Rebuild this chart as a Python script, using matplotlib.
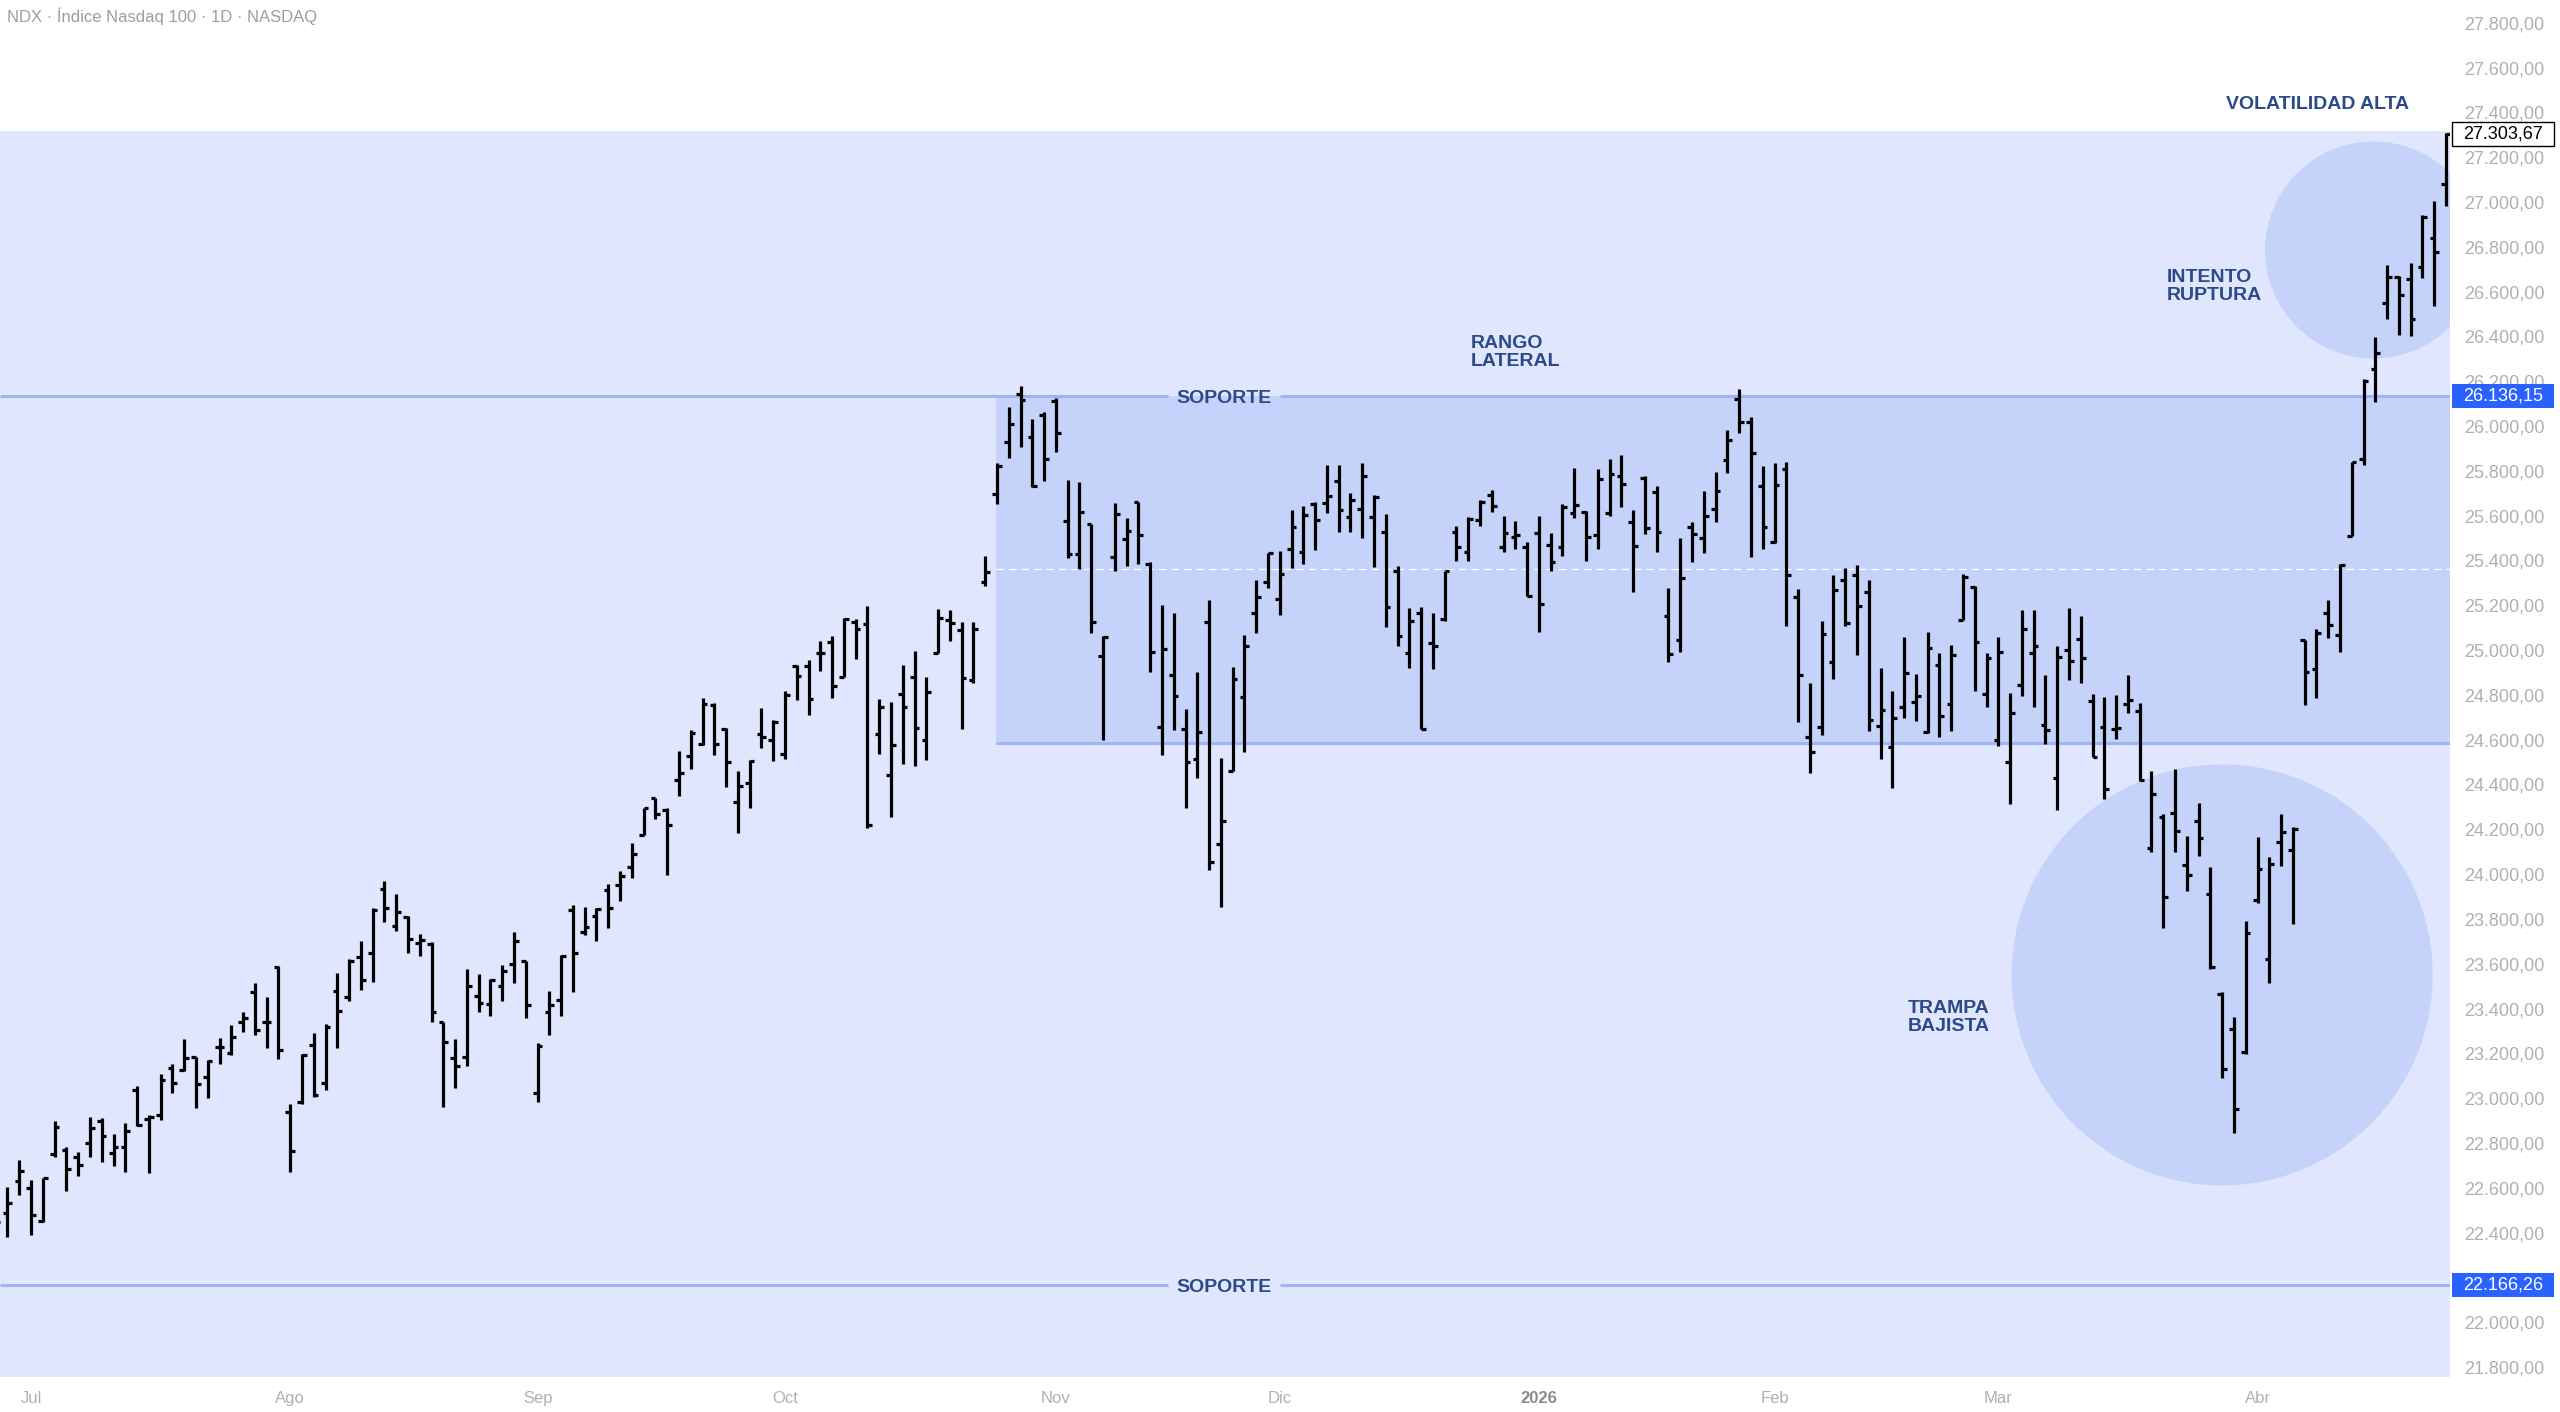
import numpy as np
import matplotlib.pyplot as plt
from matplotlib.collections import LineCollection
from matplotlib.patches import Rectangle, Ellipse

plt.rcParams['font.family'] = ['Liberation Sans', 'DejaVu Sans']

# ------------------------
# Datos: barras diarias OHLC del NDX (índice de sesión 0..208)
# ------------------------
opens = [
    22420, 22486, 22632, 22597, 22453, 22751, 22768, 22739, 22801, 22899,
    22754, 22783, 23036, 22905, 22925, 23133, 23126, 23182, 23096, 23227,
    23203, 23338, 23475, 23341, 23587, 22940, 22984, 23237, 23069, 23480,
    23453, 23628, 23649, 23932, 23768, 23807, 23694, 23688, 23341, 23180,
    23185, 23456, 23419, 23499, 23600, 23611, 23021, 23384, 23440, 23839,
    23743, 23815, 23929, 23950, 24030, 24176, 24338, 24285, 24420, 24529,
    24580, 24755, 24647, 24322, 24408, 24624, 24599, 24535, 24927, 24927,
    24986, 25034, 24882, 25126, 25115, 24624, 24441, 24804, 24879, 24600,
    24988, 25134, 25090, 24866, 25302, 25697, 25928, 26142, 25950, 26051,
    26110, 25574, 25429, 25565, 24975, 25416, 25498, 25659, 25383, 24656,
    24887, 24648, 24513, 25127, 24135, 24458, 24790, 25165, 25306, 25229,
    25452, 25440, 25653, 25656, 25757, 25593, 25629, 25596, 25529, 25351,
    24986, 25165, 25031, 25139, 25526, 25440, 25581, 25693, 25459, 25506,
    25461, 25521, 25469, 25461, 25613, 25618, 25513, 25610, 25777, 25573,
    25766, 25707, 25152, 25045, 25548, 25499, 25628, 25848, 26119, 26019,
    25734, 25484, 25808, 25235, 24613, 24655, 24948, 25313, 25335, 25260,
    24661, 24567, 24747, 24769, 24636, 24934, 24760, 25136, 25281, 24806,
    24598, 24499, 24846, 24989, 24665, 24427, 25000, 25049, 24772, 24658,
    24647, 24760, 24726, 24118, 24254, 24272, 24041, 24237, 23913, 23465,
    23308, 23207, 23884, 23621, 24145, 24108, 25045, 24916, 25164, 25068,
    25511, 25853, 26253, 26548, 26664, 26655, 26712, 26838, 27079]

highs = [
    22500, 22605, 22724, 22635, 22642, 22899, 22780, 22761, 22917, 22910,
    22840, 22887, 23054, 22925, 23108, 23152, 23262, 23185, 23170, 23267,
    23326, 23386, 23512, 23453, 23590, 22972, 23195, 23289, 23329, 23560,
    23621, 23701, 23847, 23971, 23911, 23813, 23733, 23698, 23341, 23265,
    23576, 23552, 23531, 23592, 23743, 23611, 23244, 23477, 23639, 23863,
    23855, 23850, 23958, 24014, 24137, 24296, 24341, 24293, 24551, 24644,
    24784, 24763, 24652, 24460, 24508, 24742, 24688, 24816, 24934, 24954,
    25042, 25061, 25142, 25137, 25195, 24780, 24768, 24933, 24997, 24882,
    25185, 25179, 25125, 25125, 25418, 25836, 26086, 26178, 26032, 26062,
    26127, 25759, 25751, 25565, 25063, 25655, 25589, 25659, 25394, 25201,
    25166, 24736, 24904, 25224, 24520, 24924, 25068, 25313, 25435, 25444,
    25626, 25641, 25659, 25828, 25828, 25700, 25834, 25693, 25608, 25377,
    25190, 25194, 25165, 25355, 25554, 25593, 25668, 25715, 25599, 25577,
    25484, 25600, 25521, 25652, 25814, 25622, 25808, 25851, 25871, 25625,
    25777, 25734, 25278, 25502, 25573, 25711, 25796, 25982, 26164, 26042,
    25821, 25833, 25838, 25272, 24854, 25131, 25335, 25365, 25380, 25313,
    24921, 24818, 25057, 24892, 25080, 24989, 25023, 25341, 25285, 24989,
    25057, 24810, 25179, 25177, 24890, 25020, 25187, 25151, 24806, 24789,
    24798, 24887, 24764, 24461, 24268, 24468, 24171, 24316, 24032, 23474,
    23363, 23792, 24164, 24078, 24268, 24212, 25045, 25094, 25224, 25384,
    25841, 26209, 26399, 26719, 26670, 26727, 26942, 27006, 27310]

lows = [
    22380, 22382, 22568, 22389, 22449, 22739, 22587, 22652, 22736, 22716,
    22697, 22672, 22876, 22667, 22902, 23021, 23123, 22954, 22999, 23152,
    23193, 23297, 23282, 23222, 23173, 22672, 22974, 23004, 23036, 23222,
    23435, 23483, 23520, 23788, 23748, 23649, 23634, 23341, 22962, 23046,
    23142, 23384, 23368, 23435, 23515, 23356, 22983, 23281, 23368, 23472,
    23727, 23700, 23759, 23882, 23982, 24173, 24245, 23998, 24349, 24471,
    24577, 24532, 24388, 24184, 24296, 24561, 24503, 24516, 24779, 24710,
    24906, 24784, 24882, 24962, 24206, 24536, 24254, 24492, 24481, 24509,
    24988, 25039, 24648, 24855, 25286, 25652, 25859, 25907, 25729, 25756,
    25883, 25410, 25361, 25078, 24600, 25353, 25377, 25386, 24903, 24533,
    24643, 24297, 24431, 24019, 23852, 24458, 24543, 25075, 25276, 25156,
    25365, 25385, 25447, 25614, 25529, 25529, 25499, 25370, 25102, 25019,
    24919, 24647, 24915, 25132, 25397, 25398, 25554, 25618, 25440, 25451,
    25241, 25079, 25353, 25421, 25588, 25397, 25451, 25600, 25637, 25260,
    25518, 25439, 24948, 24990, 25391, 25432, 25573, 25789, 25970, 25414,
    25451, 25476, 25109, 24677, 24450, 24621, 24869, 25109, 24978, 24640,
    24512, 24384, 24695, 24683, 24632, 24613, 24641, 25136, 24818, 24747,
    24571, 24314, 24793, 24747, 24579, 24285, 24866, 24854, 24524, 24333,
    24605, 24721, 24417, 24097, 23759, 24097, 23926, 24080, 23576, 23089,
    22842, 23197, 23872, 23512, 24036, 23777, 24755, 24785, 25053, 24993,
    25511, 25826, 26109, 26477, 26407, 26402, 26660, 26536, 26982]

closes = [
    22449, 22533, 22676, 22478, 22642, 22870, 22682, 22702, 22865, 22831,
    22783, 22855, 22880, 22914, 23081, 23066, 23178, 23063, 23164, 23227,
    23274, 23356, 23304, 23341, 23215, 22764, 23192, 23014, 23319, 23389,
    23614, 23527, 23840, 23847, 23832, 23710, 23706, 23386, 23249, 23145,
    23499, 23424, 23528, 23568, 23700, 23416, 23233, 23416, 23636, 23647,
    23764, 23843, 23847, 23993, 24089, 24293, 24269, 24221, 24452, 24631,
    24758, 24580, 24500, 24392, 24503, 24612, 24679, 24800, 24886, 24782,
    24986, 24838, 25137, 25094, 24218, 24748, 24576, 24744, 24653, 24812,
    25142, 25121, 24876, 25093, 25349, 25820, 26008, 26115, 25732, 25855,
    25969, 25429, 25616, 25126, 25058, 25608, 25530, 25514, 24991, 25003,
    24796, 24501, 24636, 24052, 24239, 24873, 25016, 25235, 25432, 25340,
    25551, 25604, 25581, 25688, 25626, 25668, 25775, 25682, 25191, 25063,
    25132, 24648, 25016, 25351, 25462, 25584, 25659, 25641, 25522, 25513,
    25241, 25204, 25394, 25640, 25647, 25506, 25762, 25784, 25740, 25464,
    25543, 25525, 24981, 25323, 25516, 25600, 25711, 25938, 26019, 25881,
    25551, 25737, 25335, 24888, 24546, 25072, 25268, 25119, 25197, 24688,
    24733, 24699, 24897, 24794, 25011, 24707, 24977, 25327, 25034, 24964,
    24991, 24721, 25092, 25016, 24644, 24969, 24952, 24965, 24524, 24379,
    24653, 24777, 24422, 24357, 23896, 24191, 23998, 24162, 23585, 23129,
    22953, 23738, 24021, 24045, 24189, 24200, 24901, 25078, 25112, 25380,
    25838, 26201, 26328, 26667, 26585, 26477, 26935, 26779, 27303.67]

# Primera sesión de cada mes
month_pos = [3, 25, 46, 67, 90, 109, 131, 151, 170, 192]
month_labels = ["Jul", "Ago", "Sep", "Oct", "Nov", "Dic", "2026", "Feb", "Mar", "Abr"]

# Niveles dibujados
soporte_alto = 26136.15
soporte_bajo = 22166.26
rango_bajo = 24586
zona_top = 27315
rango_inicio = 84.9        # sesión donde empieza el rango lateral
y_ticks = np.arange(21800, 27801, 200)
y_hidden = [22200]         # queda tapada por la etiqueta de 22.166,26

# ------------------------
# Estilo
# ------------------------
c_zona = '#dfe6fd'
c_rango = '#c5d3fb'
c_linea = '#9fb5f1'
c_texto = '#2b4a87'
c_gris = '#b0b0b0'
c_tag = '#2962ff'
x_min, x_max = 0.365, 208.34
y_min, y_max = 21755, 27902
px_x = 11.78               # píxeles por sesión
px_y = 0.224               # píxeles por punto de precio
fs_nota = 14


def fmt_es(v):
    s = f"{v:,.2f}"
    return s.replace(",", "X").replace(".", ",").replace("X", ".")


fig = plt.figure(figsize=(25.6, 14.12), dpi=100)
fig.patch.set_facecolor('white')
ax = fig.add_axes([0, 1 - 1377 / 1412, 2450 / 2560, 1377 / 1412])
ax.set_facecolor('white')
ax.set_xlim(x_min, x_max)
ax.set_ylim(y_min, y_max)
for s in ax.spines.values():
    s.set_visible(False)

# Zonas de fondo
ax.axhspan(y_min, zona_top, facecolor=c_zona, edgecolor='none', zorder=0.5)
ax.add_patch(Rectangle((rango_inicio, rango_bajo), x_max - rango_inicio,
                       soporte_alto - rango_bajo, facecolor=c_rango,
                       edgecolor='none', zorder=0.6))
ax.add_patch(Ellipse((201.85, 26786), 217 / px_x, 217 / px_y,
                     facecolor=c_rango, edgecolor='none', zorder=0.7))
ax.add_patch(Ellipse((189.0, 23550), 421 / px_x, 421 / px_y,
                     facecolor=c_rango, edgecolor='none', zorder=0.7))

# Líneas de soporte (cortadas alrededor de la etiqueta)
gap_l, gap_r, label_x = 99.5, 109.0, 104.27
txt_dy = -12               # pequeño ajuste vertical del texto
for lvl in (soporte_alto, soporte_bajo):
    ax.hlines(lvl, x_min, gap_l, color=c_linea, lw=2.2, zorder=1)
    ax.hlines(lvl, gap_r, x_max, color=c_linea, lw=2.2, zorder=1)
    ax.text(label_x, lvl + txt_dy, "SOPORTE", ha='center', va='center',
            fontsize=fs_nota, fontweight='bold', color=c_texto, zorder=4)
ax.hlines(rango_bajo, rango_inicio, x_max, color=c_linea, lw=2.2, zorder=1)
ax.hlines((soporte_alto + rango_bajo) / 2, rango_inicio, x_max, color='white',
          lw=0.9, linestyles=(0, (6, 4)), zorder=1.1)

# ------------------------
# Barras OHLC
# ------------------------
o = np.array(opens)
h = np.array(highs)
l = np.array(lows)
c = np.array(closes)
x = np.arange(len(o))
t = 0.4
segs = []
for i in range(len(x)):
    segs.append([(x[i], l[i]), (x[i], h[i])])
    segs.append([(x[i] - t, o[i]), (x[i], o[i])])
    segs.append([(x[i], c[i]), (x[i] + t, c[i])])
ax.add_collection(LineCollection(segs, colors='black', linewidths=2.3,
                                 capstyle='butt', zorder=3))

# ------------------------
# Anotaciones
# ------------------------
notas = [
    (189.3, 27448, "VOLATILIDAD ALTA"),
    (184.3, 26634, "INTENTO\nRUPTURA"),
    (125.2, 26342, "RANGO\nLATERAL"),
    (162.3, 23371, "TRAMPA\nBAJISTA"),
]
for nx, ny, txt in notas:
    ax.text(nx, ny + txt_dy, txt, ha='left', va='center', fontsize=fs_nota,
            fontweight='bold', color=c_texto, linespacing=1.08, zorder=4)

fig.text(7 / 2560, 1 - 16 / 1412, "NDX · Índice Nasdaq 100 · 1D · NASDAQ",
         ha='left', va='center', fontsize=12, color='#9e9e9e')

# ------------------------
# Ejes
# ------------------------
ax.yaxis.tick_right()
ax.set_yticks(y_ticks)
ax.set_yticklabels(["" if v in y_hidden else fmt_es(v) for v in y_ticks])
ax.tick_params(axis='y', length=0, pad=10.5, labelsize=13, labelcolor=c_gris)
ax.set_xticks(month_pos)
ax.set_xticklabels(month_labels)
ax.tick_params(axis='x', length=0, pad=10, labelsize=12, labelcolor=c_gris)
for lab in ax.get_xticklabels():
    if lab.get_text() == "2026":
        lab.set_fontweight('bold')
        lab.set_color('#8a8a8a')

# Etiquetas de precio en el eje
tag_x0 = (2452 + 4.3) / px_x
tag_w = 102 / px_x
tag_h = 24 / px_y
tag_xc = tag_x0 + tag_w / 2
last = closes[-1]
ax.add_patch(Rectangle((tag_x0, last - tag_h / 2), tag_w, tag_h, facecolor='white',
                       edgecolor='black', lw=1.0, clip_on=False, zorder=5))
ax.text(tag_xc, last, fmt_es(last), ha='center', va='center', fontsize=13,
        color='black', clip_on=False, zorder=6)
for lvl in (soporte_alto, soporte_bajo):
    ax.add_patch(Rectangle((tag_x0, lvl - tag_h / 2), tag_w, tag_h, facecolor=c_tag,
                           edgecolor='none', clip_on=False, zorder=5))
    ax.text(tag_xc, lvl, fmt_es(lvl), ha='center', va='center', fontsize=13,
            color='white', clip_on=False, zorder=6)

fig.savefig("out.png", dpi=100, facecolor='white')
